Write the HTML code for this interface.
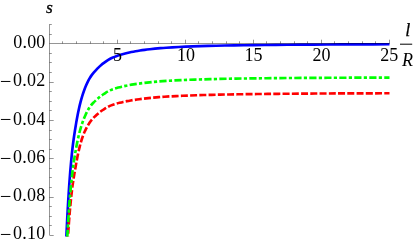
<!DOCTYPE html>
<html><head><meta charset="utf-8">
<style>
html,body{margin:0;padding:0;background:#fff;}
body{width:416px;height:244px;overflow:hidden;}
svg{display:block;will-change:transform;}
text{font-family:"Liberation Serif",serif;font-size:18px;fill:#000;}
.it{font-style:italic;}
.ax line{stroke:#000;stroke-width:0.42;}
</style></head><body>
<svg width="416" height="244" viewBox="0 0 416 244">
<rect width="416" height="244" fill="#fff"/>
<g fill="none" stroke-width="2.65" stroke-linejoin="miter">
<path d="M66.38,236.50 C66.67,229.96 66.96,223.76 67.26,217.85 C67.57,211.95 67.88,206.34 68.19,201.01 C68.51,195.67 68.83,190.61 69.17,185.79 C69.50,180.98 69.84,176.44 70.20,172.14 C70.55,167.84 70.91,163.79 71.28,159.93 C71.65,156.08 72.02,152.39 72.41,149.00 C72.80,145.62 73.20,142.50 73.61,139.53 C74.02,136.56 74.44,133.74 74.87,130.98 C75.30,128.23 75.74,125.55 76.19,122.89 C76.64,120.22 77.11,117.65 77.59,115.20 C78.06,112.76 78.55,110.44 79.05,108.22 C79.55,106.00 80.07,103.89 80.59,101.89 C81.12,99.88 81.66,97.98 82.22,96.17 C82.77,94.36 83.34,92.66 83.93,91.03 C84.51,89.39 85.11,87.84 85.72,86.36 C86.34,84.88 86.97,83.48 87.61,82.16 C88.26,80.83 88.92,79.58 89.60,78.40 C90.29,77.22 90.98,76.12 91.70,75.14 C92.41,74.17 93.15,73.29 93.90,72.43 C94.65,71.58 95.43,70.75 96.22,69.91 C97.01,69.07 97.83,68.21 98.66,67.40 C99.49,66.59 100.35,65.81 101.23,65.07 C102.10,64.32 103.00,63.62 103.93,62.94 C104.85,62.26 105.80,61.55 106.77,60.88 C107.74,60.20 108.74,59.57 109.76,59.01 C110.78,58.46 111.83,57.99 112.90,57.54 C113.98,57.09 115.08,56.66 116.21,56.25 C117.35,55.84 118.51,55.44 119.70,55.07 C120.89,54.69 122.11,54.33 123.36,53.98 C124.61,53.63 125.90,53.30 127.22,52.98 C128.54,52.66 129.89,52.35 131.28,52.07 C132.66,51.78 134.09,51.50 135.54,51.24 C137.00,50.98 138.50,50.74 140.04,50.50 C141.57,50.26 143.15,50.04 144.76,49.83 C146.38,49.61 148.04,49.41 149.74,49.21 C151.44,49.01 153.18,48.82 154.97,48.64 C156.76,48.46 158.59,48.29 160.48,48.13 C162.36,47.97 164.29,47.83 166.27,47.70 C168.25,47.57 170.28,47.44 172.37,47.32 C174.45,47.20 176.59,47.09 178.78,46.98 C180.98,46.87 183.23,46.77 185.53,46.67 C187.84,46.58 190.21,46.48 192.63,46.39 C195.06,46.31 197.55,46.22 200.11,46.14 C202.66,46.06 205.28,45.99 207.97,45.92 C210.66,45.84 213.42,45.78 216.24,45.71 C219.07,45.65 221.97,45.59 224.95,45.53 C227.93,45.47 230.98,45.41 234.11,45.36 C237.24,45.31 240.45,45.26 243.75,45.21 C247.04,45.16 250.42,45.12 253.89,45.07 C257.36,45.03 260.91,44.99 264.56,44.95 C268.21,44.91 271.95,44.87 275.79,44.84 C279.63,44.80 283.56,44.77 287.60,44.74 C291.64,44.71 295.78,44.68 300.03,44.65 C304.28,44.62 308.64,44.59 313.11,44.56 C317.59,44.54 322.17,44.51 326.88,44.49 C331.58,44.47 336.41,44.45 341.36,44.42 C346.31,44.40 351.39,44.38 356.60,44.36 C361.81,44.34 367.15,44.33 372.63,44.31 C378.11,44.29 383.73,44.28 389.50,44.26" stroke="#0000ff"/>
<path d="M67.99,236.50 C68.29,231.60 68.60,226.98 68.92,222.60 C69.24,218.23 69.57,214.12 69.91,210.26 C70.24,206.41 70.59,202.80 70.94,199.40 C71.29,196.00 71.65,192.78 72.02,189.75 C72.39,186.72 72.77,183.98 73.16,181.37 C73.55,178.76 73.95,176.30 74.36,173.87 C74.77,171.45 75.19,169.06 75.62,166.66 C76.05,164.25 76.49,161.80 76.94,159.43 C77.39,157.06 77.85,154.77 78.33,152.58 C78.80,150.38 79.29,148.29 79.78,146.31 C80.28,144.34 80.79,142.49 81.32,140.77 C81.84,139.04 82.38,137.45 82.93,135.97 C83.48,134.49 84.04,133.12 84.62,131.83 C85.19,130.54 85.79,129.33 86.39,128.17 C87.00,127.01 87.62,125.91 88.26,124.85 C88.90,123.79 89.55,122.78 90.22,121.80 C90.89,120.83 91.58,119.97 92.28,119.17 C92.99,118.37 93.71,117.63 94.45,116.91 C95.19,116.19 95.94,115.49 96.72,114.77 C97.50,114.05 98.29,113.34 99.11,112.68 C99.92,112.01 100.76,111.38 101.62,110.78 C102.48,110.18 103.35,109.62 104.26,109.06 C105.16,108.50 106.08,107.91 107.03,107.36 C107.97,106.81 108.94,106.29 109.94,105.85 C110.93,105.40 111.95,105.04 112.99,104.68 C114.04,104.32 115.11,103.99 116.21,103.67 C117.30,103.35 118.43,103.04 119.58,102.75 C120.73,102.47 121.91,102.19 123.13,101.92 C124.34,101.66 125.58,101.40 126.85,101.16 C128.12,100.92 129.43,100.69 130.76,100.46 C132.10,100.24 133.47,100.03 134.87,99.83 C136.28,99.62 137.72,99.42 139.19,99.23 C140.67,99.04 142.18,98.85 143.73,98.67 C145.28,98.49 146.87,98.31 148.50,98.14 C150.13,97.97 151.80,97.80 153.51,97.63 C155.22,97.47 156.97,97.31 158.77,97.16 C160.57,97.01 162.41,96.87 164.30,96.75 C166.19,96.62 168.12,96.50 170.11,96.39 C172.09,96.28 174.12,96.17 176.21,96.07 C178.29,95.96 180.43,95.86 182.62,95.77 C184.81,95.67 187.05,95.58 189.35,95.50 C191.65,95.41 194.01,95.33 196.43,95.25 C198.84,95.17 201.32,95.09 203.86,95.02 C206.40,94.95 209.00,94.88 211.67,94.81 C214.34,94.75 217.07,94.69 219.87,94.63 C222.68,94.57 225.55,94.51 228.49,94.46 C231.44,94.40 234.46,94.35 237.55,94.30 C240.64,94.25 243.81,94.21 247.06,94.16 C250.31,94.12 253.64,94.07 257.06,94.03 C260.47,93.99 263.97,93.95 267.56,93.92 C271.15,93.88 274.82,93.85 278.59,93.81 C282.36,93.78 286.22,93.75 290.18,93.72 C294.14,93.69 298.20,93.66 302.36,93.63 C306.52,93.60 310.78,93.58 315.15,93.55 C319.52,93.53 324.00,93.50 328.59,93.48 C333.18,93.46 337.89,93.44 342.71,93.42 C347.53,93.40 352.48,93.38 357.54,93.36 C362.61,93.34 367.80,93.32 373.13,93.31 C378.45,93.29 383.91,93.27 389.50,93.26" stroke="#ff0000" stroke-dasharray="7.0 2.25" stroke-dashoffset="6.62"/>
<path d="M67.33,236.50 C67.63,230.95 67.94,225.69 68.25,220.69 C68.56,215.69 68.88,210.94 69.21,206.44 C69.54,201.93 69.87,197.70 70.22,193.69 C70.56,189.69 70.92,185.92 71.28,182.33 C71.64,178.75 72.01,175.33 72.40,172.20 C72.78,169.07 73.17,166.20 73.57,163.47 C73.97,160.74 74.38,158.16 74.80,155.65 C75.22,153.14 75.65,150.69 76.10,148.27 C76.54,145.84 76.99,143.47 77.46,141.25 C77.93,139.02 78.40,136.90 78.89,134.88 C79.38,132.86 79.88,130.95 80.40,129.14 C80.91,127.32 81.44,125.60 81.98,123.97 C82.52,122.34 83.08,120.81 83.65,119.35 C84.21,117.89 84.80,116.50 85.40,115.18 C85.99,113.86 86.61,112.61 87.23,111.43 C87.86,110.24 88.51,109.13 89.17,108.08 C89.83,107.03 90.51,106.03 91.20,105.16 C91.89,104.29 92.61,103.52 93.34,102.78 C94.07,102.05 94.81,101.35 95.58,100.64 C96.35,99.93 97.14,99.19 97.94,98.47 C98.75,97.76 99.58,97.07 100.42,96.41 C101.27,95.75 102.14,95.12 103.03,94.52 C103.93,93.92 104.84,93.34 105.78,92.74 C106.71,92.13 107.67,91.55 108.66,91.02 C109.64,90.50 110.65,90.06 111.69,89.66 C112.73,89.27 113.79,88.90 114.88,88.56 C115.97,88.21 117.08,87.88 118.23,87.57 C119.37,87.26 120.54,86.96 121.75,86.68 C122.95,86.39 124.18,86.12 125.45,85.86 C126.71,85.59 128.01,85.34 129.34,85.10 C130.67,84.86 132.03,84.63 133.43,84.41 C134.83,84.19 136.26,83.98 137.73,83.77 C139.20,83.56 140.71,83.36 142.25,83.17 C143.79,82.98 145.38,82.79 147.00,82.61 C148.63,82.43 150.29,82.26 152.00,82.08 C153.70,81.91 155.45,81.74 157.25,81.59 C159.04,81.43 160.88,81.28 162.77,81.15 C164.65,81.01 166.59,80.89 168.57,80.78 C170.55,80.66 172.59,80.55 174.67,80.44 C176.76,80.33 178.89,80.23 181.08,80.13 C183.28,80.03 185.52,79.94 187.83,79.85 C190.13,79.76 192.49,79.68 194.91,79.60 C197.33,79.51 199.82,79.44 202.36,79.36 C204.91,79.29 207.52,79.22 210.19,79.15 C212.87,79.08 215.61,79.02 218.43,78.96 C221.24,78.90 224.12,78.84 227.08,78.78 C230.04,78.73 233.07,78.67 236.18,78.62 C239.29,78.57 242.47,78.52 245.74,78.48 C249.01,78.43 252.36,78.39 255.80,78.35 C259.23,78.31 262.75,78.27 266.37,78.23 C269.98,78.19 273.68,78.16 277.48,78.12 C281.27,78.09 285.16,78.06 289.16,78.03 C293.15,77.99 297.24,77.97 301.43,77.94 C305.63,77.91 309.93,77.88 314.34,77.86 C318.75,77.83 323.27,77.81 327.91,77.79 C332.55,77.76 337.30,77.74 342.17,77.72 C347.05,77.70 352.04,77.68 357.17,77.66 C362.29,77.64 367.54,77.63 372.93,77.61 C378.32,77.59 383.84,77.58 389.50,77.56" stroke="#00ff00" stroke-dasharray="7.2 2.3 3.2 2.3" stroke-dashoffset="0.74"/>
</g>
<g class="ax">
<line x1="49.5" y1="43.5" x2="389.50" y2="43.5"/>
<line x1="49.5" y1="24.34" x2="49.5" y2="235.10"/>
<line x1="62.50" y1="43.50" x2="62.50" y2="41.30"/>
<line x1="76.50" y1="43.50" x2="76.50" y2="41.30"/>
<line x1="90.50" y1="43.50" x2="90.50" y2="41.30"/>
<line x1="103.50" y1="43.50" x2="103.50" y2="41.30"/>
<line x1="117.50" y1="43.50" x2="117.50" y2="39.70"/>
<line x1="130.50" y1="43.50" x2="130.50" y2="41.30"/>
<line x1="144.50" y1="43.50" x2="144.50" y2="41.30"/>
<line x1="158.50" y1="43.50" x2="158.50" y2="41.30"/>
<line x1="171.50" y1="43.50" x2="171.50" y2="41.30"/>
<line x1="185.50" y1="43.50" x2="185.50" y2="39.70"/>
<line x1="198.50" y1="43.50" x2="198.50" y2="41.30"/>
<line x1="212.50" y1="43.50" x2="212.50" y2="41.30"/>
<line x1="226.50" y1="43.50" x2="226.50" y2="41.30"/>
<line x1="239.50" y1="43.50" x2="239.50" y2="41.30"/>
<line x1="253.50" y1="43.50" x2="253.50" y2="39.70"/>
<line x1="266.50" y1="43.50" x2="266.50" y2="41.30"/>
<line x1="280.50" y1="43.50" x2="280.50" y2="41.30"/>
<line x1="294.50" y1="43.50" x2="294.50" y2="41.30"/>
<line x1="307.50" y1="43.50" x2="307.50" y2="41.30"/>
<line x1="321.50" y1="43.50" x2="321.50" y2="39.70"/>
<line x1="334.50" y1="43.50" x2="334.50" y2="41.30"/>
<line x1="348.50" y1="43.50" x2="348.50" y2="41.30"/>
<line x1="362.50" y1="43.50" x2="362.50" y2="41.30"/>
<line x1="375.50" y1="43.50" x2="375.50" y2="41.30"/>
<line x1="389.50" y1="43.50" x2="389.50" y2="39.70"/>
<line x1="49.50" y1="235.50" x2="53.70" y2="235.50"/>
<line x1="49.50" y1="225.50" x2="51.80" y2="225.50"/>
<line x1="49.50" y1="216.50" x2="51.80" y2="216.50"/>
<line x1="49.50" y1="206.50" x2="51.80" y2="206.50"/>
<line x1="49.50" y1="197.50" x2="53.70" y2="197.50"/>
<line x1="49.50" y1="187.50" x2="51.80" y2="187.50"/>
<line x1="49.50" y1="177.50" x2="51.80" y2="177.50"/>
<line x1="49.50" y1="168.50" x2="51.80" y2="168.50"/>
<line x1="49.50" y1="158.50" x2="53.70" y2="158.50"/>
<line x1="49.50" y1="149.50" x2="51.80" y2="149.50"/>
<line x1="49.50" y1="139.50" x2="51.80" y2="139.50"/>
<line x1="49.50" y1="130.50" x2="51.80" y2="130.50"/>
<line x1="49.50" y1="120.50" x2="53.70" y2="120.50"/>
<line x1="49.50" y1="110.50" x2="51.80" y2="110.50"/>
<line x1="49.50" y1="101.50" x2="51.80" y2="101.50"/>
<line x1="49.50" y1="91.50" x2="51.80" y2="91.50"/>
<line x1="49.50" y1="82.50" x2="53.70" y2="82.50"/>
<line x1="49.50" y1="72.50" x2="51.80" y2="72.50"/>
<line x1="49.50" y1="62.50" x2="51.80" y2="62.50"/>
<line x1="49.50" y1="53.50" x2="51.80" y2="53.50"/>
<line x1="49.50" y1="34.50" x2="51.80" y2="34.50"/>
<line x1="49.50" y1="24.50" x2="51.80" y2="24.50"/>
</g>
<g>
<text x="117.40" y="60.6" text-anchor="middle">5</text>
<text x="185.95" y="60.6" text-anchor="middle">10</text>
<text x="253.50" y="60.6" text-anchor="middle">15</text>
<text x="321.50" y="60.6" text-anchor="middle">20</text>
<text x="389.35" y="60.6" text-anchor="middle">25</text>
<text x="45.6" y="48.10" text-anchor="end" style="letter-spacing:0.22px">0.00</text>
<text x="45.5" y="86.32" text-anchor="end" style="letter-spacing:0.22px">0.02</text>
<text x="0.1" y="88.07" style="font-size:20px;stroke:#000;stroke-width:0.15px">−</text>
<text x="45.5" y="124.64" text-anchor="end" style="letter-spacing:0.22px">0.04</text>
<text x="0.1" y="126.39" style="font-size:20px;stroke:#000;stroke-width:0.15px">−</text>
<text x="45.5" y="162.96" text-anchor="end" style="letter-spacing:0.22px">0.06</text>
<text x="0.1" y="164.71" style="font-size:20px;stroke:#000;stroke-width:0.15px">−</text>
<text x="45.5" y="201.18" text-anchor="end" style="letter-spacing:0.22px">0.08</text>
<text x="0.1" y="202.93" style="font-size:20px;stroke:#000;stroke-width:0.15px">−</text>
<text x="45.5" y="239.00" text-anchor="end" style="letter-spacing:0.22px">0.10</text>
<text x="0.1" y="240.75" style="font-size:20px;stroke:#000;stroke-width:0.15px">−</text>

<text class="it" x="45.9" y="13.2" style="font-size:17.5px;stroke:#000;stroke-width:0.3px">s</text>
<text class="it" x="405.3" y="35.6" style="stroke:#000;stroke-width:0.25px">l</text>
<text class="it" x="402" y="65.6">R</text>
</g>
<line x1="400" y1="44.2" x2="412.2" y2="44.2" stroke="#000" stroke-width="1"/>
</svg>
</body></html>
